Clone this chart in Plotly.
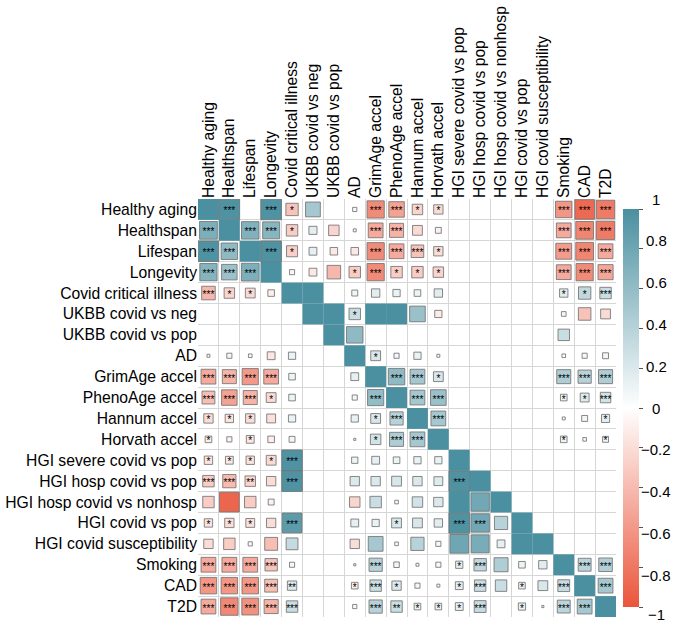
import math
import plotly.graph_objects as go

labels = ["Healthy aging", "Healthspan", "Lifespan", "Longevity", "Covid critical illness",
          "UKBB covid vs neg", "UKBB covid vs pop", "AD", "GrimAge accel", "PhenoAge accel",
          "Hannum accel", "Horvath accel", "HGI severe covid vs pop", "HGI hosp covid vs pop",
          "HGI hosp covid vs nonhosp", "HGI covid vs pop", "HGI covid susceptibility",
          "Smoking", "CAD", "T2D"]

N = None
r_healthy_aging = [1, 0.97, N, 0.97, -0.35, 0.5, N, 0.04, -0.68, -0.55, -0.25, -0.2, N, N, N, N, N, -0.62, -0.88, -0.78]
r_healthspan    = [0.72, 1, 0.7, 0.66, -0.3, 0.15, -0.25, 0.02, -0.5, -0.45, -0.22, -0.08, N, N, N, N, N, -0.5, -0.72, -0.78]
r_lifespan      = [0.97, 0.62, 1, 0.97, -0.28, 0.14, -0.13, -0.13, -0.68, -0.5, -0.36, -0.2, N, N, N, N, N, -0.58, -0.72, -0.5]
r_longevity     = [0.68, 0.55, 0.72, 1, -0.06, -0.14, -0.42, -0.3, -0.68, -0.3, -0.3, -0.25, N, N, N, N, N, -0.5, -0.68, -0.52]
r_covid_crit    = [-0.42, -0.25, -0.22, -0.1, 1, 1, N, 0.08, 0.16, 0.12, 0.1, 0.16, N, N, N, N, N, 0.16, 0.35, 0.3]
r_ukbb_neg      = [N, N, N, N, N, 1, 1, 0.3, 1, 1, 0.56, -0.12, N, N, N, N, N, 0.05, -0.36, -0.22]
r_ukbb_pop      = [N, N, N, N, N, N, 1, 0.62, N, N, N, N, N, N, N, N, N, 0.3, N, N]
r_ad            = [0.02, 0.06, 0.03, -0.14, 0.12, N, N, 1, 0.22, 0.06, 0.12, 0.02, N, N, N, N, N, 0.03, 0.06, 0.08]
r_grimage       = [-0.5, -0.45, -0.6, -0.5, 0.1, N, N, 0.14, 1, 0.62, 0.5, 0.22, N, N, N, N, N, 0.45, 0.4, 0.45]
r_phenoage      = [-0.38, -0.55, -0.45, -0.22, 0.1, N, N, 0.06, 0.6, 1, 0.5, 0.56, N, N, N, N, N, 0.1, 0.18, 0.25]
r_hannum        = [-0.2, -0.16, -0.2, -0.18, 0.12, N, N, 0.12, 0.22, 0.4, 1, 0.5, N, N, N, N, N, 0.02, 0.08, 0.15]
r_horvath       = [-0.1, -0.06, -0.14, -0.1, 0.08, N, N, 0.01, 0.25, 0.45, 0.5, 1, N, N, N, N, N, 0.1, 0.03, 0.08]
r_hgi_severe    = [-0.16, -0.14, -0.16, -0.22, 0.97, N, N, 0.09, 0.14, 0.1, 0.12, 0.12, 1, N, N, N, N, N, N, N]
r_hgi_hosp_pop  = [-0.3, -0.4, -0.25, -0.2, 0.97, N, N, 0.2, 0.2, 0.22, 0.2, 0.18, 0.97, 1, N, N, N, N, N, N]
r_hgi_hosp_non  = [-0.3, -0.9, -0.3, -0.08, N, N, N, -0.25, 0.3, 0.03, 0.25, 0.2, 1, 0.78, 1, N, N, N, N, N]
r_hgi_covid_pop = [-0.16, -0.2, -0.18, -0.2, 0.9, N, N, 0.14, 0.12, 0.22, 0.22, 0.16, 0.97, 0.78, 0.4, 1, N, N, N, N]
r_hgi_suscept   = [-0.2, -0.3, 0.04, -0.38, 0.32, N, N, -0.2, 0.5, 0.03, 0.4, 0.06, 0.8, 0.75, 0.14, 1, 1, N, N, N]
r_smoking       = [-0.5, -0.5, -0.5, -0.35, 0.06, N, N, 0.01, 0.4, 0.07, 0.02, 0.06, 0.12, 0.35, 0.45, 0.1, 0.16, 1, 0.38, 0.42]
r_cad           = [-0.62, -0.62, -0.62, -0.38, 0.2, N, N, -0.1, 0.3, 0.2, 0.06, 0.02, 0.14, 0.3, 0.3, 0.1, 0.22, 0.32, 1, 0.5]
r_t2d           = [-0.5, -0.7, -0.65, -0.45, 0.3, N, N, 0.04, 0.4, 0.3, 0.1, 0.1, 0.14, 0.32, N, 0.12, 0.01, 0.38, 0.5, 1]

s_healthy_aging = ["", "***", "", "***", "*", "", "", "", "***", "***", "*", "*", "", "", "", "", "", "***", "***", "***"]
s_healthspan    = ["***", "", "***", "***", "*", "", "", "", "***", "***", "", "", "", "", "", "", "", "***", "***", "***"]
s_lifespan      = ["***", "***", "", "***", "*", "", "", "", "***", "***", "***", "*", "", "", "", "", "", "***", "***", "***"]
s_longevity     = ["***", "***", "***", "", "", "", "", "*", "***", "*", "*", "*", "", "", "", "", "", "***", "***", "***"]
s_covid_crit    = ["***", "*", "*", "", "", "", "", "", "", "", "", "", "", "", "", "", "", "*", "*", "***"]
s_ukbb_neg      = ["", "", "", "", "", "", "", "*", "", "", "", "", "", "", "", "", "", "", "", ""]
s_ukbb_pop      = [""] * 20
s_ad            = ["", "", "", "", "", "", "", "", "*", "", "", "", "", "", "", "", "", "", "", ""]
s_grimage       = ["***", "***", "***", "***", "", "", "", "", "", "***", "***", "*", "", "", "", "", "", "***", "***", "***"]
s_phenoage      = ["***", "***", "***", "*", "", "", "", "", "***", "", "***", "***", "", "", "", "", "", "*", "*", "***"]
s_hannum        = ["*", "*", "*", "", "", "", "", "", "*", "***", "", "***", "", "", "", "", "", "", "", "*"]
s_horvath       = ["*", "", "*", "", "", "", "", "", "*", "***", "***", "", "", "", "", "", "", "*", "", "*"]
s_hgi_severe    = ["*", "*", "*", "*", "***", "", "", "", "", "", "", "", "", "", "", "", "", "", "", ""]
s_hgi_hosp_pop  = ["***", "***", "**", "", "***", "", "", "", "", "", "", "", "***", "", "", "", "", "", "", ""]
s_hgi_hosp_non  = [""] * 20
s_hgi_covid_pop = ["*", "*", "*", "", "***", "", "", "", "", "*", "", "", "***", "***", "", "", "", "", "", ""]
s_hgi_suscept   = [""] * 20
s_smoking       = ["***", "***", "***", "***", "", "", "", "", "***", "", "", "", "*", "***", "", "", "", "", "***", "***"]
s_cad           = ["***", "***", "***", "***", "**", "", "", "*", "***", "*", "", "", "*", "***", "", "*", "", "***", "", "***"]
s_t2d           = ["***", "***", "***", "***", "***", "", "", "", "***", "**", "*", "*", "*", "***", "", "*", "", "***", "***", ""]

cbar_ticks = [-1, -0.8, -0.6, -0.4, -0.2, 0, 0.2, 0.4, 0.6, 0.8, 1]

corr_rows = [r_healthy_aging, r_healthspan, r_lifespan, r_longevity, r_covid_crit, r_ukbb_neg,
             r_ukbb_pop, r_ad, r_grimage, r_phenoage, r_hannum, r_horvath, r_hgi_severe,
             r_hgi_hosp_pop, r_hgi_hosp_non, r_hgi_covid_pop, r_hgi_suscept, r_smoking, r_cad, r_t2d]
star_rows = [s_healthy_aging, s_healthspan, s_lifespan, s_longevity, s_covid_crit, s_ukbb_neg,
             s_ukbb_pop, s_ad, s_grimage, s_phenoage, s_hannum, s_horvath, s_hgi_severe,
             s_hgi_hosp_pop, s_hgi_hosp_non, s_hgi_covid_pop, s_hgi_suscept, s_smoking, s_cad, s_t2d]

W, H = 673, 623
ML, MR, MT, MB = 198, 57, 199, 6
n = len(labels)
pw = W - ML - MR
cell = pw / n
FONT = "Liberation Sans"

xs, ys, vals, sizes, lw = [], [], [], [], []
tx, ty, tt = [], [], []
for i, row in enumerate(corr_rows):
    for j, v in enumerate(row):
        if v is None:
            continue
        xs.append(j + 1)
        ys.append(i + 1)
        vals.append(v)
        sizes.append(math.sqrt(abs(v)) * cell)
        lw.append(0 if abs(v) >= 0.99 else 1)
        st = star_rows[i][j]
        if st:
            tx.append(j + 1)
            ty.append(i + 1 + 0.12)
            tt.append(st)

colorscale = [[0, "#EA553A"], [0.5, "#FFFFFF"], [1, "#4A90A0"]]

fig = go.Figure()
fig.add_trace(go.Scatter(
    x=xs, y=ys, mode="markers",
    marker=dict(symbol="square", size=sizes, color=vals, cmin=-1, cmax=1,
                colorscale=colorscale, opacity=1,
                line=dict(color="rgba(115,115,115,0.85)", width=lw),
                colorbar=dict(x=1 + 7 / pw, xanchor="left", xpad=0,
                              y=0.5, yanchor="middle", len=1, lenmode="fraction",
                              thickness=16, outlinewidth=0,
                              tickvals=cbar_ticks, showticklabels=False,
                              ticks="outside", ticklen=4, tickcolor="#555")),
    hoverinfo="skip", showlegend=False))
fig.add_trace(go.Scatter(
    x=tx, y=ty, mode="text", text=tt,
    textfont=dict(size=10, color="black", family=FONT),
    hoverinfo="skip", showlegend=False))

# colour-bar labels, centred like the reference
for v in cbar_ticks:
    txt = ("%g" % v).replace("-", "\u2212")
    fig.add_annotation(x=1 + (656 - ML - pw) / pw, y=(v + 1) / 2, xref="paper", yref="paper",
                       text=txt, showarrow=False, xanchor="center", yanchor="middle",
                       yshift=3 if v == -1 else 0, borderpad=0,
                       font=dict(size=15, color="black", family=FONT))

bounds = [k + 0.5 for k in range(n + 1)]
axis_common = dict(
    tickmode="array", tickvals=list(range(1, n + 1)), ticktext=labels,
    showgrid=False, zeroline=False, showline=False, ticks="",
    tickfont=dict(size=15.7, color="black", family=FONT),
    minor=dict(tickmode="array", tickvals=bounds, showgrid=True,
               gridcolor="#D6D6D6", gridwidth=1, ticks=""),
)
fig.update_xaxes(range=[0.5, n + 0.5], side="top", tickangle=-90, **axis_common)
fig.update_yaxes(range=[n + 0.5, 0.5], **axis_common)

fig.update_layout(
    width=W, height=H,
    margin=dict(l=ML, r=MR, t=MT, b=MB, autoexpand=False),
    paper_bgcolor="white", plot_bgcolor="white",
    font=dict(family=FONT, color="black"),
)
fig.write_html("out.html", config={"displayModeBar": False},
               post_script="document.body.style.margin='0px';")
